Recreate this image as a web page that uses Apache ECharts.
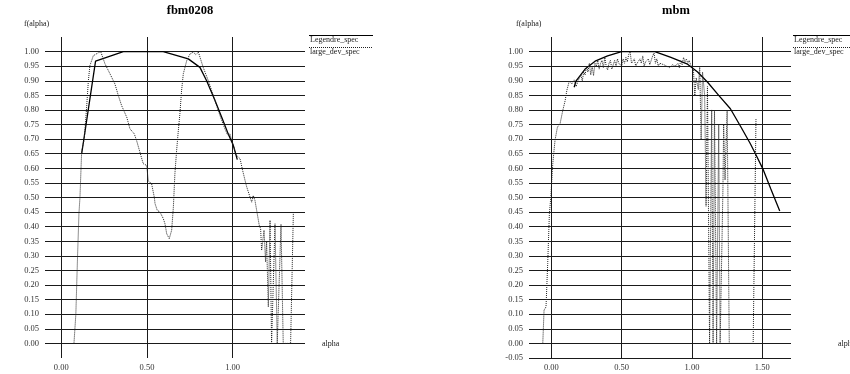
<!DOCTYPE html>
<html>
<head>
<meta charset="utf-8">
<script src="https://cdn.jsdelivr.net/npm/echarts@6/dist/echarts.min.js"></script>
<style>
  html, body { margin: 0; padding: 0; background: #fff; }
  #chart { width: 850px; height: 374px; }
</style>
</head>
<body>
<div id="chart"></div>
<script>
const titles = ['fbm0208', 'mbm'];
const seriesNames = ['Legendre_spec', 'large_dev_spec'];
const xTicksFbm = [0, 0.5, 1];
const xTicksMbm = [0, 0.5, 1, 1.5];

// fbm0208
const fbmLegendreAlpha = [0.119, 0.20, 0.362, 0.595, 0.741, 0.809, 0.848, 0.897, 0.936, 0.974, 1.003, 1.027];
const fbmLegendreF = [0.65, 0.967, 1.0, 1.0, 0.975, 0.946, 0.90, 0.832, 0.775, 0.718, 0.68, 0.63];
const fbmLargeDevAlpha = [0.074, 0.085, 0.095, 0.103, 0.109, 0.119, 0.134, 0.148, 0.158, 0.167, 0.187, 0.216, 0.23,
  0.255, 0.284, 0.313, 0.333, 0.352, 0.382, 0.401, 0.426, 0.44, 0.459, 0.478, 0.498, 0.508, 0.527, 0.543, 0.547,
  0.56, 0.576, 0.595, 0.605, 0.615, 0.63, 0.644, 0.654, 0.663, 0.673, 0.683, 0.692, 0.702, 0.712, 0.732, 0.751,
  0.77, 0.785, 0.80, 0.828, 0.858, 0.877, 0.897, 0.916, 0.936, 0.955, 0.97, 0.984, 1.0, 1.023, 1.043, 1.058,
  1.072, 1.082, 1.101, 1.111, 1.12, 1.13, 1.14, 1.155, 1.163, 1.169, 1.183, 1.192, 1.198, 1.208, 1.218, 1.227,
  1.247, 1.26, 1.282, 1.295, 1.338, 1.354];
const fbmLargeDevF = [0, 0.10, 0.30, 0.445, 0.50, 0.66, 0.70, 0.81, 0.90, 0.952, 0.986, 0.996, 1.0,
  0.958, 0.924, 0.889, 0.849, 0.815, 0.775, 0.735, 0.718, 0.694, 0.655, 0.616, 0.61, 0.556, 0.547, 0.50, 0.479,
  0.456, 0.45, 0.428, 0.41, 0.376, 0.359, 0.388, 0.467, 0.582, 0.661, 0.73, 0.787, 0.867, 0.924, 0.969, 0.992,
  0.998, 0.99, 0.998, 0.946, 0.90, 0.867, 0.832, 0.798, 0.764, 0.735, 0.715, 0.718, 0.684, 0.644, 0.633, 0.593,
  0.559, 0.536, 0.502, 0.484, 0.507, 0.49, 0.456, 0.405, 0.393, 0.319, 0.388, 0.279, 0.348, 0.125, 0.422, 0,
  0.41, 0, 0.408, 0, 0, 0.445];

// mbm
const mbmLegendreAlpha = [0.162, 0.176, 0.24, 0.311, 0.40, 0.499, 0.736, 0.85, 0.964, 1.04, 1.111, 1.19, 1.273, 1.35, 1.415, 1.451, 1.503, 1.56, 1.624];
const mbmLegendreF = [0.878, 0.90, 0.94, 0.967, 0.985, 1.0, 1.0, 0.98, 0.958, 0.93, 0.895, 0.85, 0.804, 0.74, 0.684, 0.65, 0.599, 0.53, 0.454];
const mbmLargeDevAlpha = [-0.061, -0.052, -0.038, -0.026, -0.014, -0.004, 0.01, 0.026, 0.043, 0.062, 0.081, 0.098,
  0.11, 0.128, 0.145, 0.162, 0.176, 0.19, 0.20, 0.21, 0.22, 0.23, 0.24, 0.25, 0.26, 0.27, 0.28, 0.29, 0.30, 0.31,
  0.32, 0.33, 0.34, 0.35, 0.36, 0.37, 0.38, 0.39, 0.40, 0.41, 0.42, 0.43, 0.45, 0.46, 0.47, 0.48, 0.50, 0.51, 0.52,
  0.53, 0.54, 0.55, 0.56, 0.57, 0.58, 0.59, 0.60, 0.61, 0.62, 0.63, 0.64, 0.65, 0.66, 0.67, 0.68, 0.69, 0.70, 0.71,
  0.72, 0.73, 0.74, 0.75, 0.76, 0.77, 0.78, 0.80, 0.82, 0.84, 0.86, 0.88, 0.90, 0.91, 0.92, 0.93, 0.94, 0.95, 0.96,
  0.97, 0.98, 0.99, 1.00, 1.01, 1.02, 1.03, 1.045, 1.055, 1.065, 1.075, 1.09, 1.10, 1.11, 1.125, 1.14, 1.15, 1.16,
  1.175, 1.19, 1.20, 1.22, 1.225, 1.235, 1.25, 1.265, 1.30, 1.35, 1.40, 1.435, 1.455];
const mbmLargeDevF = [0, 0.114, 0.125, 0.274, 0.445, 0.50, 0.616, 0.696, 0.741, 0.753, 0.798, 0.832,
  0.867, 0.90, 0.889, 0.903, 0.88, 0.90, 0.91, 0.92, 0.90, 0.93, 0.92, 0.95, 0.93, 0.96, 0.92, 0.95, 0.918, 0.96,
  0.95, 0.97, 0.94, 0.96, 0.97, 0.945, 0.98, 0.95, 0.937, 0.96, 0.97, 0.94, 0.97, 0.95, 0.975, 0.96, 0.95, 0.975, 0.96,
  0.98, 0.965, 0.99, 1.0, 0.96, 0.955, 0.975, 0.95, 0.96, 0.955, 0.975, 0.96, 0.985, 0.95, 0.965, 0.96, 0.975, 0.955, 0.97,
  0.985, 0.995, 0.96, 0.975, 0.95, 0.96, 0.955, 0.955, 0.95, 0.945, 0.955, 0.95, 0.96, 0.945, 0.97, 0.955, 0.98, 0.965, 0.975,
  0.96, 0.97, 0.955, 0.955, 0.94, 0.85, 0.91, 0.87, 0.95, 0.70, 0.93, 0.85, 0.47, 0.88, 0, 0.80, 0, 0.80,
  0, 0.75, 0, 0.53, 0.75, 0.56, 0.80, 0, 0, 0, 0, 0, 0.77];

const serif = '"Liberation Serif", "Times New Roman", serif';
const zip = (a, b) => a.map((v, i) => [v, b[i]]);
const fmt = v => (Math.abs(v) < 1e-9 ? 0 : v).toFixed(2);

const panels = [
  { grid: { left: 45, right: 545, top: 37, bottom: 16 }, xMin: -0.095, xMax: 1.422, ticks: xTicksFbm,
    titleX: 190, nameGap: 17, namePad: [0, 0, 56, 0], yNamePad: [0, 12, 0, 0], minLine: false, legendX: 309,
    legendre: zip(fbmLegendreAlpha, fbmLegendreF), largeDev: zip(fbmLargeDevAlpha, fbmLargeDevF) },
  { grid: { left: 529, right: 59, top: 37, bottom: 16 }, xMin: -0.159, xMax: 1.704, ticks: xTicksMbm,
    titleX: 676, nameGap: 47, namePad: [0, 0, 0, 0], yNamePad: [0, 10, 0, 0], minLine: true, legendX: 793,
    legendre: zip(mbmLegendreAlpha, mbmLegendreF), largeDev: zip(mbmLargeDevAlpha, mbmLargeDevF) }
];

const gridLine = { color: '#1a1a1a', width: 1 };
const lineStyles = [
  { color: '#000', width: 1.3, type: 'solid' },
  { color: '#222', width: 1, type: 'dotted' }
];

const chart = echarts.init(document.getElementById('chart'));
const option = {
  animation: false,
  backgroundColor: '#fff',
  title: panels.map((p, i) => ({
    text: titles[i], left: p.titleX, top: 4, padding: 0, textAlign: 'center',
    textStyle: { fontFamily: serif, fontSize: 12.5, fontWeight: 'bold', color: '#000' }
  })),
  grid: panels.map(p => Object.assign({ outerBoundsMode: 'none', containLabel: false }, p.grid)),
  xAxis: panels.map((p, i) => ({
    gridIndex: i, type: 'value', min: p.xMin, max: p.xMax,
    name: 'alpha', nameLocation: 'end', nameGap: p.nameGap,
    nameTextStyle: { fontFamily: serif, fontSize: 8, color: '#222', padding: p.namePad },
    axisLine: { show: false },
    axisTick: { show: false, customValues: p.ticks },
    axisLabel: { customValues: p.ticks, formatter: fmt, fontFamily: serif, fontSize: 8.5, color: '#333', margin: 5 },
    splitLine: { show: true, lineStyle: gridLine }
  })),
  yAxis: panels.map((p, i) => ({
    gridIndex: i, type: 'value', min: -0.05, max: 1.05, interval: 0.05,
    name: 'f(alpha)', nameLocation: 'end', nameGap: 9,
    nameTextStyle: { fontFamily: serif, fontSize: 8, color: '#222', align: 'right', verticalAlign: 'bottom', padding: p.yNamePad },
    axisLine: { show: false },
    axisTick: { show: false },
    axisLabel: { formatter: fmt, fontFamily: serif, fontSize: 8.5, color: '#333', margin: 6,
      showMaxLabel: false, showMinLabel: p.minLine },
    splitLine: { show: true, showMinLine: p.minLine, showMaxLine: false, lineStyle: gridLine }
  })),
  series: panels.flatMap((p, i) => [
    { name: seriesNames[0], type: 'line', xAxisIndex: i, yAxisIndex: i, data: p.legendre,
      showSymbol: false, lineStyle: lineStyles[0], silent: true },
    { name: seriesNames[1], type: 'line', xAxisIndex: i, yAxisIndex: i, data: p.largeDev,
      showSymbol: false, lineStyle: lineStyles[1], silent: true }
  ]),
  graphic: panels.flatMap(p => seriesNames.flatMap((name, k) => [
    { type: 'line', silent: true,
      shape: { x1: p.legendX, y1: 35.5 + k * 12, x2: p.legendX + 64, y2: 35.5 + k * 12 },
      style: { stroke: lineStyles[k].color, lineWidth: 1, lineDash: k ? [1, 1] : null } },
    { type: 'text', silent: true, x: p.legendX + 1, y: 39.5 + k * 12,
      style: { text: name, font: '8px ' + serif, fill: '#222', verticalAlign: 'middle' } }
  ]))
};
chart.setOption(option);
</script>
</body>
</html>
